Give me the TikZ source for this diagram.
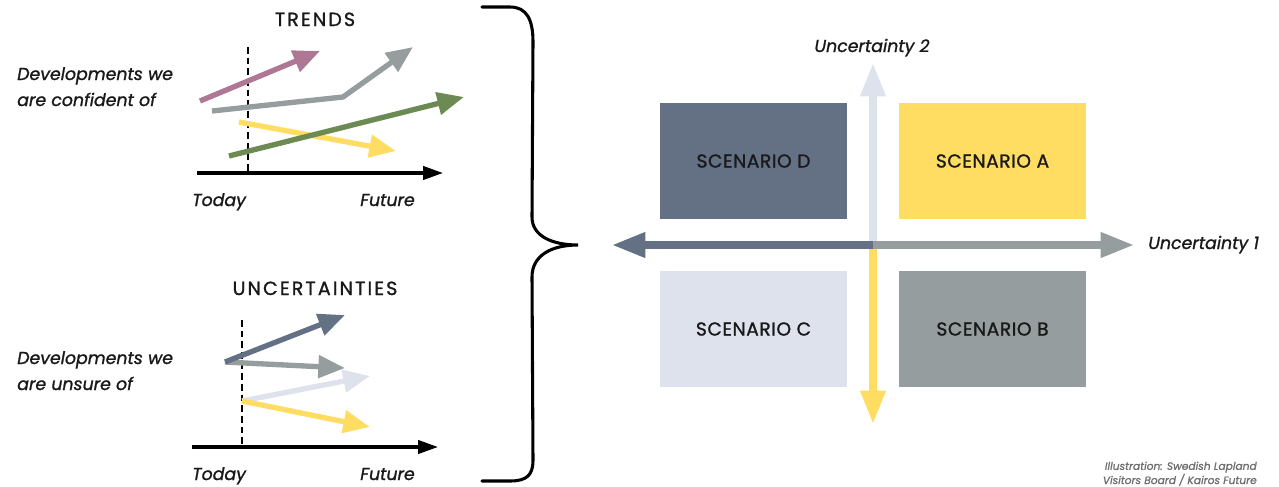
\documentclass[tikz,border=0pt]{standalone}
\usepackage{fontspec}
\setmainfont{Poppins}[FakeBold=1.2]
\newfontfamily\capsfont{Poppins}[FakeBold=1.2, LetterSpace=11]
\newfontfamily\scenfont{Poppins}[FakeBold=1.2, LetterSpace=3]
\usetikzlibrary{arrows.meta}
\definecolor{pinkc}{HTML}{AE7894}
\definecolor{grayc}{HTML}{969D9E}
\definecolor{greenc}{HTML}{6C8A52}
\definecolor{yellowc}{HTML}{FFDD63}
\definecolor{slatec}{HTML}{647185}
\definecolor{lightc}{HTML}{DDE2ED}
\definecolor{creditc}{HTML}{6E6E6E}
\begin{document}
\begin{tikzpicture}[x=0.75pt,y=-0.75pt,
  trend/.style={line width=4pt, line join=miter, -{Triangle[length=20pt,width=16.5pt]}},
  timeaxis/.style={line width=2.4pt, -{Triangle[length=15pt,width=10pt]}},
  todayline/.style={line width=0.8pt, dash pattern=on 5pt off 3pt},
  qaxis/.style={line width=5.3pt, -{Triangle[length=25pt,width=18pt]}},
  scen/.style={minimum width=140.25pt, minimum height=87pt, inner sep=0pt, font=\scenfont\fontsize{14}{16}\selectfont, text=black!90},
  head/.style={font=\capsfont\fontsize{14.3}{16}\selectfont, anchor=base, text=black!90},
  lbl/.style={font=\itshape\fontsize{13}{19.5}\selectfont, align=left, inner sep=0pt, text=black!90},
  ax/.style={font=\itshape\fontsize{13}{15}\selectfont, inner sep=0pt, text=black!90}]
\useasboundingbox (0,0) rectangle (1279,486);

% ---------- Brace ----------
\draw[line width=2.3pt, line cap=round]
  (482,7) -- (510,7) .. controls (527,7) and (533,20) .. (533,42)
  -- (532,217) .. controls (532,236) and (552,245) .. (578,245)
  .. controls (552,245) and (532,255) .. (532,277)
  -- (533,460) .. controls (533,475) and (527,481) .. (510,481) -- (482,481);

% ---------- TRENDS panel ----------
\node[head] (trendsT) at (315,26) {TRENDS};
\node[lbl, anchor=base west] (conf) at (17,106) {Developments we\\are confident of};
\coordinate (tA0) at (197,173);
\coordinate (tA1) at (443,173);
\coordinate (tD0) at (248,47);
\coordinate (tD1) at (248,173);
\draw[todayline] (tD0) -- (tD1);
\draw[timeaxis] (tA0) -- (tA1);
\node[ax, anchor=base west] (today1) at (192,206) {Today};
\node[ax, anchor=base east] (future1) at (415,206) {Future};

\coordinate (p0) at (200,101);
\coordinate (p1) at (320,51);
\coordinate (g0) at (212,111);
\coordinate (g1) at (343,97);
\coordinate (g2) at (413,47);
\coordinate (y0) at (239,122);
\coordinate (y1) at (396,151);
\coordinate (n0) at (229,156);
\coordinate (n1) at (464,97);
\draw[trend, pinkc] (p0) -- (p1);
\draw[trend, grayc] (g0) -- (g1) -- (g2);
\draw[trend, yellowc] (y0) -- (y1);
\draw[trend, greenc] (n0) -- (n1);

% ---------- UNCERTAINTIES panel ----------
\node[head] (uncT) at (315,295) {UNCERTAINTIES};
\node[lbl, anchor=base west] (unsure) at (17,390) {Developments we\\are unsure of};
\coordinate (uA0) at (192,447);
\coordinate (uA1) at (438,447);
\coordinate (uD0) at (242,320);
\coordinate (uD1) at (242,447);
\draw[todayline] (uD0) -- (uD1);
\draw[timeaxis] (uA0) -- (uA1);
\node[ax, anchor=base west] (today2) at (192,480) {Today};
\node[ax, anchor=base east] (future2) at (415,480) {Future};

\coordinate (u0) at (225,362);
\coordinate (us1) at (345,315);
\coordinate (ug1) at (345,368);
\coordinate (v0) at (242,401);
\coordinate (vl1) at (370,376);
\coordinate (vy1) at (370,427);
\draw[trend, lightc] (v0) -- (vl1);
\draw[trend, yellowc] (v0) -- (vy1);
\draw[trend, grayc] (u0) -- (ug1);
\draw[trend, slatec] (u0) -- (us1);

% ---------- Scenario matrix ----------
\node[scen, fill=slatec] (D) at (753.5,161) {SCENARIO D};
\node[scen, fill=yellowc] (A) at (992.5,161) {SCENARIO A};
\node[scen, fill=lightc] (C) at (753.5,329) {SCENARIO C};
\node[scen, fill=grayc] (B) at (992.5,329) {SCENARIO B};

\coordinate (O) at (873,245);
\coordinate (QT) at (873,63);
\coordinate (QB) at (873,424);
\coordinate (QL) at (612,245);
\coordinate (QR) at (1134,245);
\draw[qaxis, lightc] (O) -- (QT);
\draw[qaxis, yellowc] (O) -- (QB);
\draw[qaxis, slatec] (O) -- (QL);
\draw[qaxis, grayc] (O) -- (QR);

\node[ax, anchor=base] (u2) at (872,52) {Uncertainty 2};
\node[ax, anchor=base west] (u1) at (1148,249) {Uncertainty 1};

\node[font=\itshape\fontsize{8}{9.5}\selectfont, text=creditc, align=right, anchor=base east, inner sep=0pt] (credit) at (1257,484) {Illustration: Swedish Lapland\\Visitors Board / Kairos Future};
\end{tikzpicture}
\end{document}
